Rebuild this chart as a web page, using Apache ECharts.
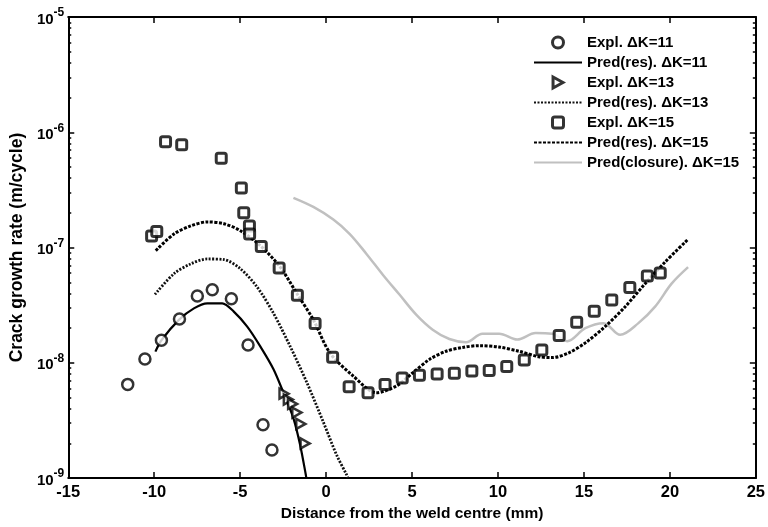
<!DOCTYPE html>
<html>
<head>
<meta charset="utf-8">
<script src="https://cdn.jsdelivr.net/npm/echarts@6/dist/echarts.min.js"></script>
<style>
  html, body { margin: 0; background: #fff; }
  #chart { width: 768px; height: 527px; }
</style>
</head>
<body>
<div id="chart"></div>
<script>
  // measured points, dK = 11
  var expl11X = [-11.54, -10.54, -9.58, -8.53, -7.49, -6.62, -5.51, -4.54, -3.67, -3.15]
  var expl11Y = [6.5e-9, 1.08e-8, 1.57e-8, 2.4e-8, 3.8e-8, 4.3e-8, 3.6e-8, 1.43e-8, 2.9e-9, 1.75e-9]
  // measured points, dK = 13
  var expl13X = [-2.45, -2.2, -1.95, -1.7, -1.47, -1.22]
  var expl13Y = [5.4e-9, 4.8e-9, 4.4e-9, 3.7e-9, 2.95e-9, 2.0e-9]
  // measured points, dK = 15
  var expl15X = [-10.15, -9.85, -9.34, -8.4, -6.1, -4.93, -4.79, -4.46, -4.45, -3.77, -2.73, -1.67, -0.64, 0.38, 1.34,
    2.44, 3.43, 4.43, 5.43, 6.46, 7.46, 8.48, 9.49, 10.51, 11.53, 12.55, 13.56, 14.58, 15.6, 16.62, 17.67, 18.69, 19.44]
  var expl15Y = [1.26e-7, 1.38e-7, 8.26e-7, 7.78e-7, 5.94e-7, 3.28e-7, 2.0e-7, 1.54e-7, 1.31e-7, 1.02e-7, 6.64e-8, 3.86e-8, 2.19e-8, 1.12e-8, 6.2e-9,
    5.5e-9, 6.5e-9, 7.4e-9, 7.8e-9, 8.0e-9, 8.1e-9, 8.5e-9, 8.6e-9, 9.3e-9, 1.06e-8, 1.29e-8, 1.73e-8, 2.25e-8, 2.8e-8, 3.5e-8, 4.5e-8, 5.67e-8, 6.0e-8]

  // predictions (residual stress)
  var pred11X = [-9.93, -9.58, -8.55, -7.69, -6.91, -6.04, -5.37, -4.6, -3.83, -3.06, -2.48, -1.9, -1.51, -1.18, -1.15]
  var pred11Y = [1.25e-8, 1.57e-8, 2.37e-8, 2.97e-8, 3.28e-8, 3.28e-8, 2.78e-8, 2.07e-8, 1.39e-8, 8.8e-9, 5.5e-9, 3.3e-9, 1.94e-9, 1.07e-9, 1.0e-9]
  var pred13X = [-9.96, -8.85, -7.88, -6.91, -5.95, -4.99, -4.02, -3.06, -2.09, -1.12, -0.16, 0.61, 1.19, 1.27]
  var pred13Y = [3.92e-8, 5.93e-8, 7.21e-8, 7.96e-8, 7.87e-8, 6.55e-8, 4.56e-8, 2.69e-8, 1.39e-8, 6.75e-9, 3.06e-9, 1.59e-9, 1.07e-9, 1.0e-9]
  var pred15X = [-9.91, -8.85, -7.88, -6.91, -5.95, -4.99, -3.83, -2.67, -1.7, -0.74, 0.22, 1.57, 2.93, 4.09, 5.05, 6.01, 6.98,
    7.94, 8.91, 10.07, 11.22, 12.38, 13.15, 14.12, 15.08, 16.24, 17.4, 18.56, 19.71, 21.06]
  var pred15Y = [9.4e-8, 1.31e-7, 1.54e-7, 1.67e-7, 1.61e-7, 1.4e-7, 1.04e-7, 6.76e-8, 3.99e-8, 2.36e-8, 1.22e-8, 7.7e-9, 5.5e-9, 6.3e-9, 8.2e-9, 1.07e-8, 1.26e-8,
    1.36e-8, 1.41e-8, 1.37e-8, 1.26e-8, 1.13e-8, 1.11e-8, 1.22e-8, 1.49e-8, 2.07e-8, 3.07e-8, 4.86e-8, 7.46e-8, 1.18e-7]
  // prediction (closure)
  var closX = [-1.9, -0.74, 0.42, 1.38, 2.35, 3.31, 4.28, 5.24, 6.2, 7.17, 8.14, 9.1, 10.07, 11.12, 12.19, 13.15, 14.02,
    15.08, 16.14, 17.11, 18.17, 19.14, 20.1, 21.06]
  var closY = [2.7e-7, 2.25e-7, 1.75e-7, 1.31e-7, 8.8e-8, 5.78e-8, 3.89e-8, 2.62e-8, 1.94e-8, 1.61e-8, 1.51e-8, 1.79e-8, 1.79e-8, 1.59e-8, 1.81e-8, 1.79e-8, 1.54e-8,
    2.0e-8, 2.21e-8, 1.75e-8, 2.21e-8, 3.07e-8, 4.86e-8, 6.76e-8]

  var legendNames = ['Expl. ΔK=11', 'Pred(res). ΔK=11', 'Expl. ΔK=13', 'Pred(res). ΔK=13',
    'Expl. ΔK=15', 'Pred(res). ΔK=15', 'Pred(closure). ΔK=15']
  var lineNames = [legendNames[1], legendNames[3], legendNames[5], legendNames[6]]

  function pairs (xs, ys) {
    return xs.map(function (x, i) { return [x, ys[i]] })
  }

  // minor ticks 2..9 in each decade
  var minorTicks = []
  for (var k = -9; k <= -6; k++) {
    for (var m = 2; m <= 9; m++) minorTicks.push(Number(m + 'e' + k))
  }

  var font = '"Liberation Sans", Arial, sans-serif'
  var black = '#000'
  var squarePath = 'path://M2,0 L8,0 Q10,0 10,2 L10,8 Q10,10 8,10 L2,10 Q0,10 0,8 L0,2 Q0,0 2,0 Z'

  function yAxisOf (pos, minor, labels) {
    return {
      type: 'log',
      logBase: 10,
      min: 1e-9,
      max: 1e-5,
      position: pos,
      splitLine: { show: false },
      axisLine: { show: !minor, onZero: false, lineStyle: { color: black, width: 2 } },
      axisTick: minor
        ? { inside: true, length: 3, customValues: minorTicks, lineStyle: { color: black, width: 1.5 } }
        : { inside: true, length: 6, lineStyle: { color: black, width: 1.5 } },
      axisLabel: labels ? {
        margin: 4,
        formatter: function (v) { return '{b|10}{s|' + Math.round(Math.log10(v)) + '}' },
        rich: {
          b: { fontFamily: font, fontWeight: 'bold', fontSize: 15, color: black, lineHeight: 20, verticalAlign: 'bottom' },
          s: { fontFamily: font, fontWeight: 'bold', fontSize: 12, color: black, lineHeight: 20, verticalAlign: 'top' }
        }
      } : { show: false }
    }
  }

  var leftAxis = yAxisOf('left', false, true)
  leftAxis.name = 'Crack growth rate (m/cycle)'
  leftAxis.nameLocation = 'middle'
  leftAxis.nameGap = 41
  leftAxis.nameTextStyle = { fontFamily: font, fontWeight: 'bold', fontSize: 17.5, color: black }

  // legend entries: lines without the marker dot, markers drawn bold
  var legendData = legendNames.map(function (n) {
    return lineNames.indexOf(n) >= 0
      ? { name: n, itemStyle: { opacity: 0 } }
      : { name: n, itemStyle: { borderWidth: 3, borderColor: black, color: '#fff' } }
  })

  var chart = echarts.init(document.getElementById('chart'))
  chart.setOption({
    animation: false,
    backgroundColor: '#fff',
    grid: { left: 67, right: 10, top: 17, bottom: 43 },
    legend: {
      orient: 'vertical',
      left: 528,
      top: 30,
      itemWidth: 48,
      itemHeight: 11,
      itemGap: 5,
      data: legendData,
      textStyle: { fontFamily: font, fontWeight: 'bold', fontSize: 15, color: black, lineHeight: 15 }
    },
    xAxis: [
      {
        type: 'value', min: -15, max: 25, interval: 5, position: 'bottom',
        splitLine: { show: false },
        axisLine: { onZero: false, lineStyle: { color: black, width: 2 } },
        axisTick: { inside: true, length: 6, lineStyle: { color: black, width: 1.5 } },
        axisLabel: { margin: 6, fontFamily: font, fontWeight: 'bold', fontSize: 16.5, color: black },
        name: 'Distance from the weld centre (mm)',
        nameLocation: 'middle',
        nameGap: 22,
        nameTextStyle: { fontFamily: font, fontWeight: 'bold', fontSize: 15.5, color: black }
      },
      {
        type: 'value', min: -15, max: 25, interval: 5, position: 'top',
        splitLine: { show: false },
        axisLine: { onZero: false, lineStyle: { color: black, width: 2 } },
        axisTick: { inside: true, length: 6, lineStyle: { color: black, width: 1.5 } },
        axisLabel: { show: false }
      }
    ],
    yAxis: [leftAxis, yAxisOf('left', true, false), yAxisOf('right', false, false), yAxisOf('right', true, false)],
    series: [
      {
        name: legendNames[1], type: 'line', data: pairs(pred11X, pred11Y), smooth: 0.3, symbol: 'none',
        lineStyle: { color: black, width: 2.2 }, itemStyle: { color: black }, z: 3
      },
      {
        name: legendNames[3], type: 'line', data: pairs(pred13X, pred13Y), smooth: 0.3, symbol: 'none',
        lineStyle: { color: '#111', width: 2.8, type: [2, 1.5] }, itemStyle: { color: '#111' }, z: 3
      },
      {
        name: legendNames[5], type: 'line', data: pairs(pred15X, pred15Y), smooth: 0.3, symbol: 'none',
        lineStyle: { color: '#000', width: 3, type: [3, 1.5] }, itemStyle: { color: '#000' }, z: 3
      },
      {
        name: legendNames[6], type: 'line', data: pairs(closX, closY), smooth: 0.35, symbol: 'none',
        lineStyle: { color: '#c0c0c0', width: 2.5 }, itemStyle: { color: '#c0c0c0' }, z: 2
      },
      {
        name: legendNames[0], type: 'scatter', data: pairs(expl11X, expl11Y), symbol: 'circle', symbolSize: 11,
        itemStyle: { color: '#fff', borderColor: black, borderWidth: 2.5 }, z: 5
      },
      {
        name: legendNames[2], type: 'scatter', data: pairs(expl13X, expl13Y), symbol: 'path://M0,0 L9,5 L0,10 Z', symbolSize: [9, 10],
        itemStyle: { color: '#fff', borderColor: black, borderWidth: 2.5 }, z: 5
      },
      {
        name: legendNames[4], type: 'scatter', data: pairs(expl15X, expl15Y), symbol: squarePath, symbolSize: 10,
        itemStyle: { color: '#fff', borderColor: black, borderWidth: 3 }, z: 5
      }
    ]
  })
</script>
</body>
</html>
